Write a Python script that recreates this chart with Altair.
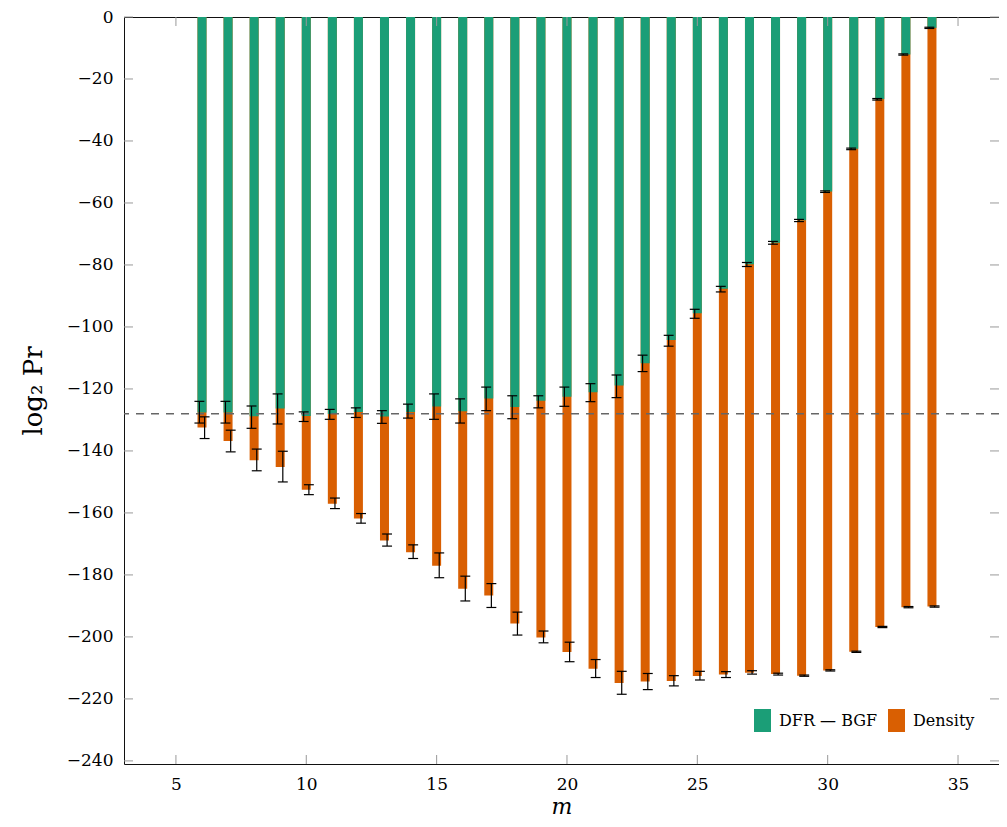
import altair as alt
import pandas as pd

# ---------------- data ----------------
m_vals = list(range(6, 35))

dfr = [-127.6, -127.6, -128.8, -126.3, -128.7, -128.1, -127.4, -128.9, -127.4, -125.7,
       -127.2, -123.1, -125.8, -123.8, -122.5, -121.1, -118.9, -111.7, -104.2, -95.6,
       -87.7, -79.8, -72.8, -65.6, -56.3, -42.5, -26.5, -12.1, -3.5]
dfr_hi = [-124.0, -124.0, -125.5, -121.6, -127.4, -126.6, -126.1, -127.0, -124.9, -121.6,
          -123.2, -119.4, -122.2, -122.2, -119.4, -118.3, -115.5, -109.1, -102.7, -94.3,
          -86.9, -79.2, -72.4, -65.3, -56.1, -42.3, -26.3, -11.9, -3.3]
dfr_lo = [-131.0, -131.0, -132.7, -131.3, -130.5, -129.8, -129.2, -131.1, -129.4, -129.8,
          -131.0, -127.0, -129.6, -126.1, -125.6, -124.1, -122.8, -114.4, -106.2, -97.2,
          -88.7, -80.5, -73.3, -66.0, -56.6, -42.8, -26.8, -12.3, -3.7]

dens = [-132.4, -136.8, -143.0, -145.2, -152.5, -157.0, -161.8, -168.9, -172.7, -177.0,
        -184.5, -186.6, -195.7, -200.2, -204.9, -210.3, -214.9, -214.4, -214.2, -212.6,
        -212.1, -211.6, -212.0, -212.5, -210.8, -204.8, -196.8, -190.4, -190.2]
dens_hi = [-129.0, -133.3, -139.4, -140.1, -150.9, -155.2, -160.2, -166.8, -170.3, -172.9,
           -180.4, -182.8, -192.0, -198.1, -201.7, -207.3, -211.1, -211.8, -212.5, -211.1,
           -211.2, -210.9, -211.7, -212.3, -210.6, -204.6, -196.6, -190.2, -190.0]
dens_lo = [-136.0, -140.3, -146.4, -150.0, -154.1, -158.6, -163.3, -170.7, -174.7, -180.9,
           -188.4, -190.5, -199.4, -201.9, -208.0, -213.1, -218.5, -217.0, -215.8, -213.9,
           -213.1, -212.0, -212.3, -212.7, -211.0, -205.0, -197.0, -190.6, -190.4]

x_ticks = [5, 10, 15, 20, 25, 30, 35]
y_ticks = [0, -20, -40, -60, -80, -100, -120, -140, -160, -180, -200, -220, -240]
threshold = [-128]

series_names = ["DFR — BGF", "Density"]
series_colors = ["#1b9e77", "#d95f02"]

# ---------------- chart ----------------
W, H = 875, 747
FONT = "DejaVu Serif"

df = pd.DataFrame(dict(m=m_vals, dfr=dfr, dfr_lo=dfr_lo, dfr_hi=dfr_hi,
                       dens=dens, dens_lo=dens_lo, dens_hi=dens_hi,
                       s_dfr=series_names[0], s_dens=series_names[1]))

xs = alt.Scale(domain=[3.2, 36.38], nice=False, zero=False)
ys = alt.Scale(domain=[-241, 0], nice=False, zero=False)
cs = alt.Scale(domain=series_names, range=series_colors)

xaxis = alt.Axis(values=x_ticks, title="m", titleFontStyle="italic",
                 titleFontSize=22, titleFontWeight="normal", titleFont=FONT,
                 titlePadding=4)
yaxis = alt.Axis(values=y_ticks, title="log₂ Pr", titleFontSize=26,
                 titleFontWeight="normal", titleFont=FONT, titlePadding=20)

legend = alt.Legend(orient="none", legendX=627, legendY=692,
                    direction="horizontal", title=None)


def X(f):
    return alt.X(f, scale=xs, axis=xaxis)


def Y(f):
    return alt.Y(f, scale=ys, axis=yaxis)


base = alt.Chart(df)

dens_bar = base.mark_bar(size=9).encode(
    x=X("m:Q"), y=Y("dens:Q"), y2=alt.datum(0),
    color=alt.Color("s_dens:N", scale=cs, legend=legend),
)
dfr_bar = base.mark_bar(size=9).encode(
    x=X("m:Q"), y=Y("dfr:Q"), y2=alt.datum(0),
    color=alt.Color("s_dfr:N", scale=cs, legend=legend),
)

thr = alt.Chart(pd.DataFrame({"t": threshold})).mark_rule(
    color="#666", strokeWidth=1.6, strokeDash=[8, 7]
).encode(y=Y("t:Q"))

eb = base.transform_calculate(
    xd="datum.m - 0.1", xd0="datum.m - 0.29", xd1="datum.m + 0.09",
    xn="datum.m + 0.1", xn0="datum.m - 0.09", xn1="datum.m + 0.29",
)
rule_kw = dict(color="black", strokeWidth=1.2)
err_layers = []
for xc, x0, x1, lo, hi in [("xd", "xd0", "xd1", "dfr_lo", "dfr_hi"),
                           ("xn", "xn0", "xn1", "dens_lo", "dens_hi")]:
    err_layers.append(eb.mark_rule(**rule_kw).encode(
        x=X(f"{xc}:Q"), y=Y(f"{lo}:Q"), y2=f"{hi}:Q"))
    for end in (lo, hi):
        err_layers.append(eb.mark_rule(**rule_kw).encode(
            x=X(f"{x0}:Q"), x2=f"{x1}:Q", y=Y(f"{end}:Q")))

# inward ticks on all four sides
tick_kw = dict(color="#999", strokeWidth=1)
xt = alt.Chart(pd.DataFrame({"v": x_ticks}))
yt = alt.Chart(pd.DataFrame({"v": y_ticks}))
ticks = [
    xt.mark_rule(**tick_kw).encode(x=X("v:Q"), y=alt.value(H), y2=alt.value(H - 9)),
    xt.mark_rule(**tick_kw).encode(x=X("v:Q"), y=alt.value(0), y2=alt.value(9)),
    yt.mark_rule(**tick_kw).encode(y=Y("v:Q"), x=alt.value(0), x2=alt.value(9)),
    yt.mark_rule(**tick_kw).encode(y=Y("v:Q"), x=alt.value(W), x2=alt.value(W - 9)),
]

chart = alt.layer(dens_bar, dfr_bar, thr, *err_layers, *ticks).properties(
    width=W, height=H,
    autosize=alt.AutoSizeParams(type="none"),
    padding={"left": 116, "top": 9, "right": 0, "bottom": 55},
).configure_view(
    stroke="#111", strokeWidth=1
).configure_axis(
    grid=False, domain=False, ticks=False, labelFont=FONT, labelFontSize=17,
    labelColor="black", titleColor="black", labelPadding=11,
).configure_axisX(
    labelPadding=12
).configure_legend(
    symbolType="M-0.74,-1H0.74V1H-0.74Z", symbolSize=529, symbolStrokeWidth=0,
    symbolOpacity=1, labelFont=FONT, labelFontSize=16, labelColor="black",
    labelOffset=5, columnPadding=7, padding=0,
)

chart.save("out.html", embed_options={"renderer": "svg", "actions": False})
